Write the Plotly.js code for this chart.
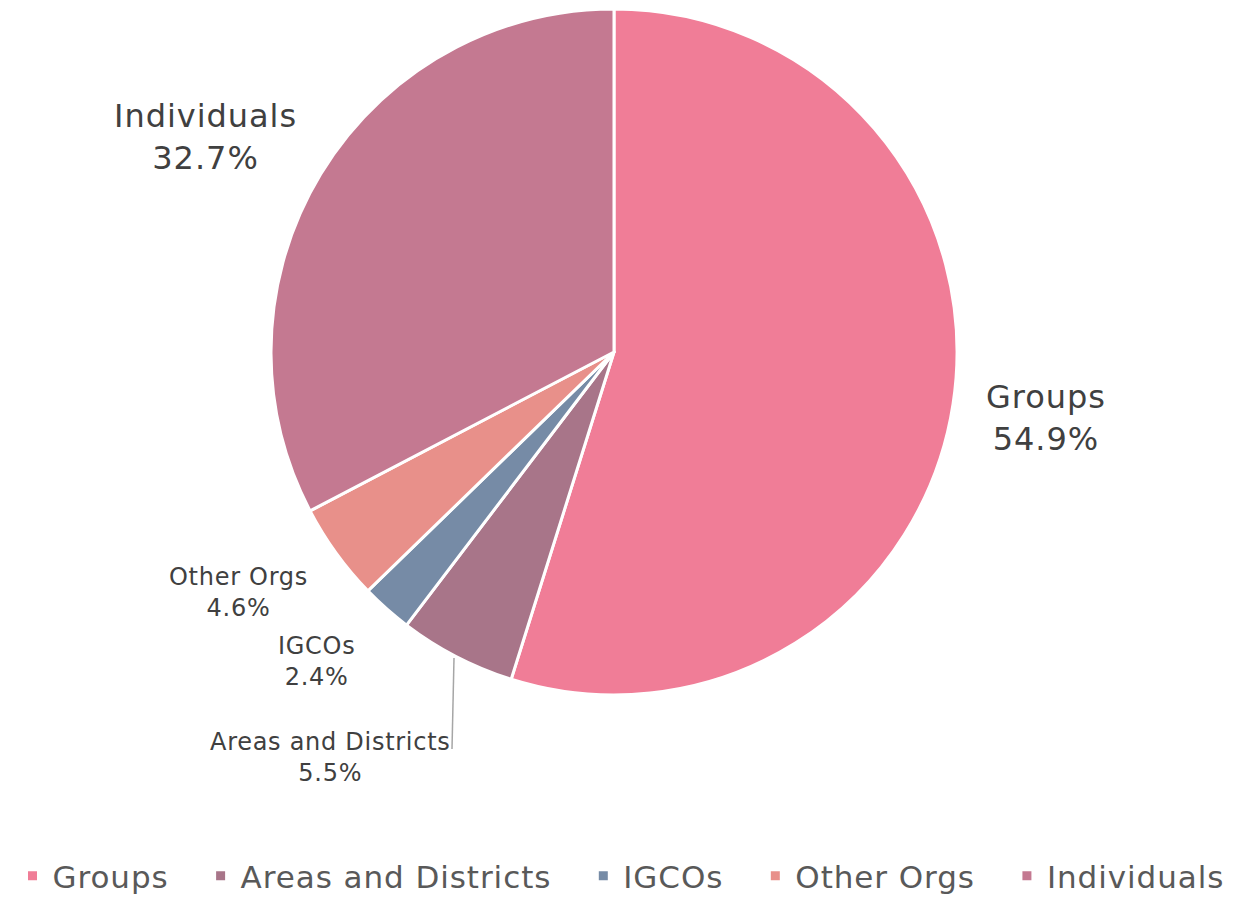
<!DOCTYPE html>
<html><head><meta charset="utf-8">
<script src="https://cdn.plot.ly/plotly-3.0.1.min.js"></script>
<style>
body{margin:0;background:#fff}#c{width:1242px;height:898px}
text.annotation-text, text.legendtext{letter-spacing:0.03em}
</style>
</head><body><div id="c"></div>
<script>
const categories = ["Groups", "Areas and Districts", "IGCOs", "Other Orgs", "Individuals"];
const shares = [54.9, 5.5, 2.4, 4.6, 32.7];
const colors = ["#F07D97", "#A87589", "#768BA6", "#E8908A", "#C47991"];

const FONT = "DejaVu Sans, sans-serif";
const labelSpots = {
  "Groups": {x: 1046, y: 418, size: 32},
  "Individuals": {x: 206, y: 137, size: 32},
  "Other Orgs": {x: 238, y: 592, size: 24},
  "IGCOs": {x: 316, y: 661, size: 24},
  "Areas and Districts": {x: 330, y: 757, size: 24}
};
const W = 1242, H = 898;
const annotations = categories.map((c, i) => ({
  text: c + "<br>" + shares[i].toFixed(1) + "%",
  x: labelSpots[c].x / W, y: 1 - labelSpots[c].y / H,
  xref: "paper", yref: "paper", xanchor: "center", yanchor: "middle",
  showarrow: false, align: "center",
  font: {family: FONT, size: labelSpots[c].size, color: "#404040"}
}));

Plotly.newPlot("c", [{
  type: "pie",
  labels: categories,
  values: shares,
  marker: {colors: colors, line: {color: "#ffffff", width: 3}},
  sort: false,
  direction: "clockwise",
  rotation: 0,
  textinfo: "none",
  hoverinfo: "label+percent",
  domain: {x: [271/W, 957/W], y: [1 - 695/H, 1 - 9/H]}
}], {
  width: W, height: H,
  margin: {l: 0, r: 0, t: 0, b: 0, autoexpand: false},
  paper_bgcolor: "#ffffff",
  showlegend: true,
  legend: {orientation: "h", x: 0.5, xanchor: "center", y: 1 - 876/H, yanchor: "middle",
           font: {family: FONT, size: 31, color: "#595959"}, traceorder: "normal",
           itemwidth: 30},
  annotations: annotations,
  shapes: [{type: "line", xref: "paper", yref: "paper",
            x0: 454/W, y0: 1 - 658/H, x1: 452/W, y1: 1 - 749/H,
            line: {color: "#A6A6A6", width: 1.5}}]
}, {displayModeBar: false, staticPlot: true}).then(gd => {
  // widen the spacing between legend entries
  const GAP = 27;
  const items = gd.querySelectorAll('.legend .traces');
  const off = -GAP * (items.length - 1) / 2;
  items.forEach((g, i) => {
    const t = g.getAttribute('transform') || '';
    const m = t.match(/translate\(\s*([-\d.e]+)[ ,]+([-\d.e]+)\s*\)/);
    if (m) g.setAttribute('transform', 'translate(' + (parseFloat(m[1]) + off + i * GAP) + ',' + m[2] + ')');
  });
  gd.querySelectorAll('.legend [clip-path]').forEach(n => n.removeAttribute('clip-path'));
});
</script></body></html>
